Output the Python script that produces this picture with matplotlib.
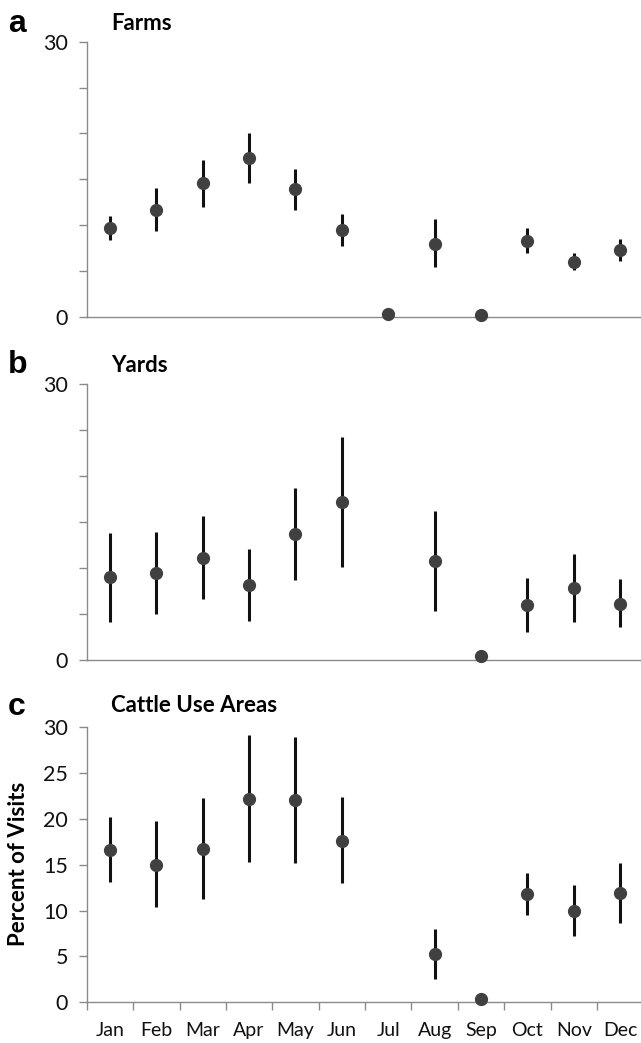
import numpy as np
import matplotlib
matplotlib.use("Agg")
import matplotlib.pyplot as plt

months = ["Jan", "Feb", "Mar", "Apr", "May", "Jun", "Jul", "Aug", "Sep", "Oct", "Nov", "Dec"]
nan = np.nan

farms_mean = [9.64, 11.67, 14.55, 17.27, 13.89, 9.45, 0.29, 7.96, 0.22, 8.25, 5.96, 7.24]
farms_hi = [10.98, 14.0, 17.13, 20.04, 16.15, 11.2, nan, 10.65, nan, 9.64, 6.95, 8.44]
farms_lo = [8.36, 9.38, 12.0, 14.55, 11.64, 7.75, nan, 5.38, nan, 6.9, 5.09, 6.04]

yards_mean = [8.99, 9.49, 11.12, 8.12, 13.66, 17.17, nan, 10.72, 0.47, 5.98, 7.79, 6.12]
yards_hi = [13.84, 13.95, 15.69, 12.07, 18.7, 24.28, nan, 16.23, nan, 8.95, 11.56, 8.8]
yards_lo = [4.17, 5.0, 6.59, 4.2, 8.66, 10.14, nan, 5.29, nan, 3.04, 4.09, 3.55]

cattle_mean = [16.58, 15.02, 16.69, 22.22, 22.04, 17.64, nan, 5.27, 0.36, 11.82, 10.0, 11.89]
cattle_hi = [20.18, 19.78, 22.33, 29.13, 28.98, 22.36, nan, 8.04, nan, 14.15, 12.76, 15.24]
cattle_lo = [13.16, 10.36, 11.24, 15.35, 15.16, 13.02, nan, 2.55, nan, 9.53, 7.27, 8.62]

panels = [
    ("a", "Farms", farms_mean, farms_lo, farms_hi),
    ("b", "Yards", yards_mean, yards_lo, yards_hi),
    ("c", "Cattle Use Areas", cattle_mean, cattle_lo, cattle_hi),
]

plt.rcParams['font.family'] = ['Lato', 'DejaVu Sans']

W, H = 641, 1043
fig = plt.figure(figsize=(W / 100, H / 100), dpi=100)

axis_col = "#8a8a8a"
dot_col = "#404040"

# (top_px, bottom_px) of each axes
boxes = [(41.7, 316.7), (384.0, 660.0), (727.3, 1002.3)]
left_px, right_px = 86.7, 643.5
letter_base = [32, 373, 715]
title_base = [30, 372, 712]

x = np.arange(len(months)) + 0.5

for i, (letter, title, mean, lo, hi) in enumerate(panels):
    top, bot = boxes[i]
    ax = fig.add_axes([left_px / W, 1 - bot / H, (right_px - left_px) / W, (bot - top) / H])
    mean = np.array(mean, dtype=float)
    lo = np.array(lo, dtype=float)
    hi = np.array(hi, dtype=float)
    ax.vlines(x, lo, hi, colors="#111111", linewidth=2.2, zorder=2)
    ax.plot(x, mean, 'o', color=dot_col, markersize=8.5, zorder=3, clip_on=False)
    ax.set_xlim(0, 12)
    ax.set_ylim(0, 30)
    ax.set_yticks(np.arange(0, 31, 5))
    for s in ["top", "right"]:
        ax.spines[s].set_visible(False)
    for s in ["left", "bottom"]:
        ax.spines[s].set_color(axis_col)
        ax.spines[s].set_linewidth(1.0)
    ax.tick_params(axis='y', direction='out', length=6, width=1.0, color=axis_col,
                   labelsize=15.5, pad=7.5, labelcolor="#111111")
    if i < 2:
        ax.set_yticklabels(["0", "", "", "", "", "", "30"])
        ax.set_xticks([])
    else:
        ax.set_xticks(np.arange(0, 13))
        ax.set_xticks(x, minor=True)
        ax.set_xticklabels([])
        ax.set_xticklabels(months, minor=True)
        ax.tick_params(axis='x', which='major', direction='out', length=6, width=1.0, color=axis_col)
        ax.tick_params(axis='x', which='minor', length=0, labelsize=14, pad=14, labelcolor="#111111")
        ax.set_ylabel("Percent of Visits", fontsize=16, fontweight='bold')
        aw = right_px - left_px
        ax.yaxis.set_label_coords((29 - left_px) / aw, (bot - 864) / (bot - top))
    fig.text(8 / W, 1 - letter_base[i] / H, letter, fontsize=23, fontweight='bold',
             family=['Liberation Sans', 'DejaVu Sans'], ha='left', va='baseline')
    fig.text(111 / W, 1 - title_base[i] / H, title, fontsize=16, fontweight='bold',
             ha='left', va='baseline')

fig.savefig("out.png", dpi=100)
